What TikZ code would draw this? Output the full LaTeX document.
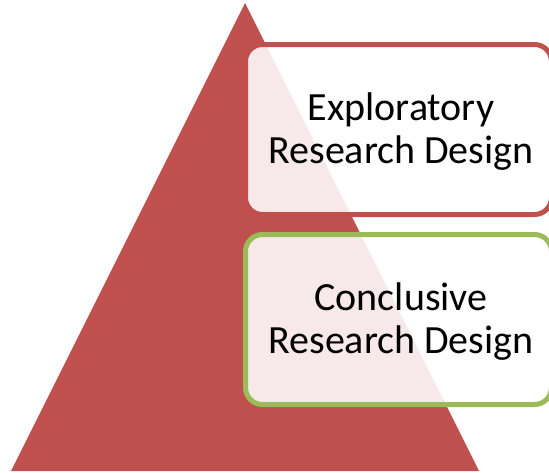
\documentclass[tikz,border=0pt]{standalone}
\usepackage{fontspec}
\setmainfont{Carlito}
\definecolor{pyrred}{HTML}{C0504D}
\definecolor{pyrgreen}{HTML}{9BBB59}
\begin{document}
\begin{tikzpicture}[x=1pt, y=-1pt,
    listbox/.style={draw, line width=5pt, rounded corners=17pt, fill=white, fill opacity=0.88,
      minimum width=306pt, minimum height=170pt},
    listtext/.style={align=center, font=\fontsize{40}{43.5}\selectfont}]
    \useasboundingbox (0, 0) rectangle (549, 472);

    \fill[pyrred] (245, 3) -- (479, 471) -- (11, 471) -- cycle;

    \node[listbox, draw=pyrred] (explo) at (398.5, 129.5) {};
    \node[listbox, draw=pyrgreen] (concl) at (398.5, 319.5) {};

    \node[listtext] (explotext) at ([xshift=2.5pt, yshift=-2pt]explo.center) {Exploratory\\Research Design};
    \node[listtext] (concltext) at ([xshift=2.5pt, yshift=-2pt]concl.center) {Conclusive\\Research Design};
  \end{tikzpicture}
\end{document}
